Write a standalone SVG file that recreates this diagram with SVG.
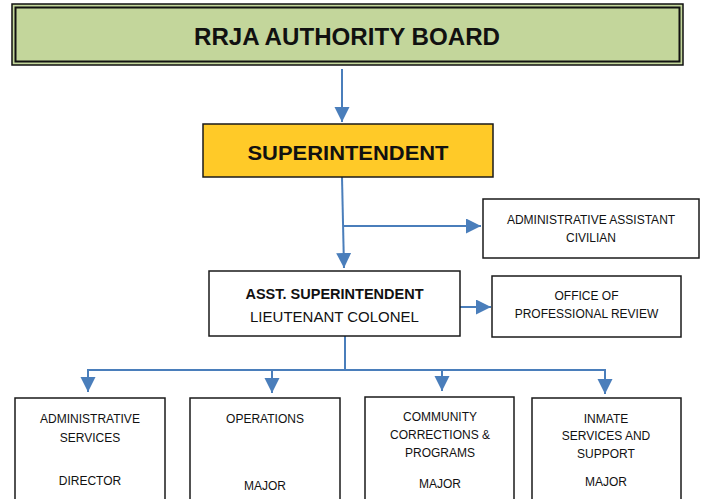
<svg xmlns="http://www.w3.org/2000/svg" width="704" height="499" viewBox="0 0 704 499">
<defs>
<marker id="ah" markerUnits="userSpaceOnUse" markerWidth="16" markerHeight="16" refX="15" refY="7.5" orient="auto">
<path d="M0,0 L15,7.5 L0,15 z" fill="#4A7EBB"/>
</marker>
<style>
.box{fill:#fff;stroke:#1a1a1a;stroke-width:1.5}
.t{font-family:"Liberation Sans",Arial,sans-serif;font-size:12px;fill:#111;text-anchor:middle}
.b{font-weight:bold}
.c{fill:none;stroke:#4A7EBB;stroke-width:2}
</style>
</defs>
<rect width="704" height="499" fill="#fff"/>
<g id="connectors">
<path class="c" d="M342 69 V122" marker-end="url(#ah)"/>
<path class="c" d="M342 177 L344 268" marker-end="url(#ah)"/>
<path class="c" d="M344 226 H481" marker-end="url(#ah)"/>
<path class="c" d="M460 307 H491" marker-end="url(#ah)"/>
<path class="c" d="M345 336 V370 M87 370 H606"/>
<path class="c" d="M88 369 V392" marker-end="url(#ah)"/>
<path class="c" d="M272 370 V393" marker-end="url(#ah)"/>
<path class="c" d="M442 370 V391" marker-end="url(#ah)"/>
<path class="c" d="M605 369 V394" marker-end="url(#ah)"/>
</g>
<g id="board">
<rect x="12" y="4" width="671" height="61" fill="#C3D69B" stroke="#111" stroke-width="1.5"/>
<rect x="15.5" y="7.5" width="664" height="54" fill="none" stroke="#111" stroke-width="2"/>
<text class="t b" x="347" y="45" style="font-size:24px" textLength="306" lengthAdjust="spacingAndGlyphs">RRJA AUTHORITY BOARD</text>
</g>
<g id="superintendent">
<rect x="203" y="124" width="290" height="53" fill="#FFCA28" stroke="#1a1a1a" stroke-width="1.5"/>
<text class="t b" x="348" y="160" style="font-size:21px" textLength="201" lengthAdjust="spacingAndGlyphs">SUPERINTENDENT</text>
</g>
<g id="admin-assistant">
<rect class="box" x="483" y="199" width="216" height="59"/>
<text class="t" x="591" y="224">ADMINISTRATIVE ASSISTANT</text>
<text class="t" x="591" y="242">CIVILIAN</text>
</g>
<g id="asst-superintendent">
<rect class="box" x="209" y="271" width="251" height="65"/>
<text class="t b" x="334.5" y="299" style="font-size:14.5px">ASST. SUPERINTENDENT</text>
<text class="t" x="334.5" y="322" style="font-size:15px">LIEUTENANT COLONEL</text>
</g>
<g id="professional-review">
<rect class="box" x="492" y="276" width="189" height="61"/>
<text class="t" x="586.5" y="300">OFFICE OF</text>
<text class="t" x="586.5" y="318">PROFESSIONAL REVIEW</text>
</g>
<g id="administrative-services">
<rect class="box" x="15" y="398" width="150" height="115"/>
<text class="t" x="90" y="423">ADMINISTRATIVE</text>
<text class="t" x="90" y="442">SERVICES</text>
<text class="t" x="90" y="485">DIRECTOR</text>
</g>
<g id="operations">
<rect class="box" x="190" y="398" width="150" height="115"/>
<text class="t" x="265" y="423">OPERATIONS</text>
<text class="t" x="265" y="490">MAJOR</text>
</g>
<g id="community-corrections">
<rect class="box" x="365" y="397" width="149" height="115"/>
<text class="t" x="440" y="421">COMMUNITY</text>
<text class="t" x="440" y="439">CORRECTIONS &amp;</text>
<text class="t" x="440" y="457">PROGRAMS</text>
<text class="t" x="440" y="488">MAJOR</text>
</g>
<g id="inmate-services">
<rect class="box" x="532" y="398" width="149" height="115"/>
<text class="t" x="606" y="423">INMATE</text>
<text class="t" x="606" y="440">SERVICES AND</text>
<text class="t" x="606" y="458">SUPPORT</text>
<text class="t" x="606" y="486">MAJOR</text>
</g>
</svg>
